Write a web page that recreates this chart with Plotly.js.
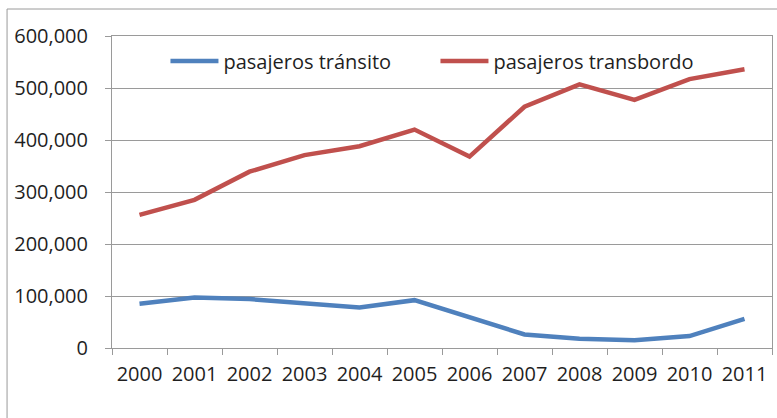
<!DOCTYPE html>
<html>
<head>
<meta charset="utf-8">
<script src="https://cdn.plot.ly/plotly-3.0.1.min.js"></script>
<style>html,body{margin:0;padding:0;background:#fff;}#chart{width:777px;height:418px;}</style>
</head>
<body>
<div id="chart"></div>
<script>
const years = ['2000','2001','2002','2003','2004','2005','2006','2007','2008','2009','2010','2011'];
const transito = [85000, 97000, 94000, 86500, 78000, 92000, 60000, 26000, 18000, 15000, 23000, 56000];
const transbordo = [256000, 285000, 339000, 371000, 388000, 420000, 368000, 464000, 507000, 477000, 517000, 536000];
const seriesNames = ['pasajeros tránsito', 'pasajeros transbordo'];
const yTicks = [0, 100000, 200000, 300000, 400000, 500000, 600000];

const gray = '#9a9a9a';
const font = {family: 'Open Sans, sans-serif', size: 20, color: '#1f1f1f'};

const traces = [
  {x: years, y: transito, name: seriesNames[0], type: 'scatter', mode: 'lines',
   line: {color: '#4F81BD', width: 4.5}},
  {x: years, y: transbordo, name: seriesNames[1], type: 'scatter', mode: 'lines',
   line: {color: '#C0504D', width: 4.5}}
];

const layout = {
  width: 777, height: 418,
  margin: {l: 112, r: 5, t: 36, b: 70},
  paper_bgcolor: '#fff', plot_bgcolor: '#fff',
  font: font,
  showlegend: true,
  legend: {orientation: 'h', x: 0.081, xanchor: 'left', y: 0.92, yanchor: 'middle',
           font: font, bgcolor: 'rgba(0,0,0,0)', itemwidth: 48, tracegroupgap: 0,
           entrywidth: 207, entrywidthmode: 'pixels'},
  xaxis: {type: 'category', range: [-0.5, 11.5], tickson: 'boundaries',
          ticks: 'outside', ticklen: 6, tickcolor: gray, showgrid: false,
          showline: true, linecolor: gray, linewidth: 1, mirror: true,
          tickangle: 0, ticklabelstandoff: 8,
          tickfont: font, fixedrange: true},
  yaxis: {range: [0, 600000], tickvals: yTicks, tickformat: ',d',
          ticks: 'outside', ticklen: 6, tickcolor: gray,
          showgrid: true, gridcolor: gray, gridwidth: 1,
          showline: true, linecolor: gray, linewidth: 1, mirror: true,
          ticklabelstandoff: 13,
          zeroline: false, tickfont: font, fixedrange: true},
  shapes: [
    {type: 'line', xref: 'paper', yref: 'paper', x0: -0.159, x1: -0.159, y0: -0.3, y1: 1.0865,
     line: {color: gray, width: 1}},
    {type: 'line', xref: 'paper', yref: 'paper', x0: -0.159, x1: 1.01, y0: 1.0865, y1: 1.0865,
     line: {color: gray, width: 1}}
  ]
};

Plotly.newPlot('chart', traces, layout, {displayModeBar: false, staticPlot: true});
</script>
</body>
</html>
